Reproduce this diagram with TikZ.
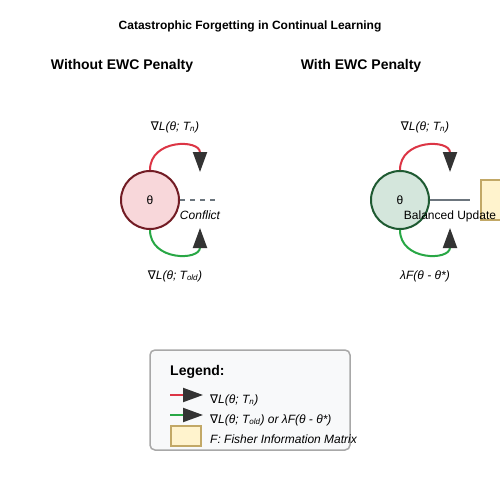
\documentclass[tikz,border=0pt]{standalone}
\usepackage{fontspec}
\setmainfont{Liberation Sans}
\newfontfamily\symfont{DejaVu Sans}
\usetikzlibrary{arrows.meta}

\definecolor{pushred}{HTML}{DC3545}
\definecolor{pullgreen}{HTML}{28A745}
\definecolor{tipgray}{HTML}{333333}
\definecolor{linegray}{HTML}{6C757D}
\definecolor{oldfill}{HTML}{F8D7DA}
\definecolor{olddraw}{HTML}{721C24}
\definecolor{ewcfill}{HTML}{D4E6DC}
\definecolor{ewcdraw}{HTML}{1E5A32}
\definecolor{fisherfill}{HTML}{FFF3CD}
\definecolor{fisherdraw}{HTML}{C2A866}
\definecolor{legfill}{HTML}{F8F9FA}
\definecolor{legdraw}{HTML}{A8A8A8}

\newcommand{\gradsym}{{\symfont\itshape ∇}}
\newcommand{\gradnew}{\gradsym L(θ; T\textsubscript{n})}
\newcommand{\gradold}{\gradsym L(θ; T\textsubscript{old})}

\begin{document}
\begin{tikzpicture}[x=1pt, y=-1pt,
    param/.style={draw, circle, line width=2pt, minimum size=58pt, inner sep=0,
                  font=\fontsize{12}{14}\selectfont},
    lbl/.style={anchor=base, inner sep=0, font=\fontsize{12}{14}\selectfont\itshape},
    head/.style={anchor=base, inner sep=0, font=\fontsize{14}{16}\selectfont\bfseries},
    grad/.style={line width=2pt, -{Triangle[length=20pt, width=14pt, color=tipgray]}},
    fisher/.style={draw=fisherdraw, fill=fisherfill, line width=2pt, inner sep=0}]
                \useasboundingbox (0,0) rectangle (500,500);
                \fill [white] (0,0) rectangle (500,500);

                \node (title) [anchor=base, font=\fontsize{12}{14}\selectfont\bfseries] at (250,30)
                    {Catastrophic Forgetting in Continual Learning};
                \node (headL) [head] at (122,70) {Without EWC Penalty};
                \node (headR) [head] at (361,70) {With EWC Penalty};

                % without penalty
                \node (thL) [param, draw=olddraw, fill=oldfill] at (150,200) {θ};
                \coordinate (upL) at (200,172);
                \coordinate (dnL) at (200,228);
                \coordinate (cfL) at (215,200);
                \draw [grad, pushred] (thL.north) .. controls (150,139) and (200,139) .. (upL);
                \draw [grad, pullgreen] (thL.south) .. controls (150,261) and (200,261) .. (dnL);
                \draw [linegray, line width=2pt, dash pattern=on 5pt off 5pt] (thL.east) -- (cfL);
                \node (gnL) [lbl] at (175,130) {\gradnew};
                \node (goL) [lbl] at (175,279) {\gradold};
                \node (conflict) [lbl] at (200,219) {Conflict};

                % with penalty
                \node (thR) [param, draw=ewcdraw, fill=ewcfill] at (400,200) {θ};
                \coordinate (upR) at (450,172);
                \coordinate (dnR) at (450,228);
                \coordinate (toF) at (470,200);
                \node (F) [fisher, minimum width=40pt, minimum height=40pt, anchor=west] at (480,200) {};
                \draw [grad, pushred] (thR.north) .. controls (400,139) and (450,139) .. (upR);
                \draw [grad, pullgreen] (thR.south) .. controls (400,261) and (450,261) .. (dnR);
                \draw [linegray, line width=2pt] (thR.east) -- (toF);
                \node (gnR) [lbl] at (425,130) {\gradnew};
                \node (pen) [lbl] at (425,279) {λF(θ - θ*)};
                \node (bal) [anchor=base, inner sep=0, font=\fontsize{12}{14}\selectfont] at (450,219)
                    {Balanced Update};

                % legend
                \draw [legdraw, fill=legfill, line width=1.5pt, rounded corners=5pt]
                    (150,350) rectangle (350,450);
                \node (leg) [head, anchor=base west] at (170,375) {Legend:};
                \coordinate (r0) at (170,395);
                \coordinate (r1) at (203,395);
                \coordinate (g0) at (170,415);
                \coordinate (g1) at (203,415);
                \draw [grad, pushred] (r0) -- (r1);
                \draw [grad, pullgreen] (g0) -- (g1);
                \node (Fkey) [fisher, minimum width=30pt, minimum height=20pt, anchor=north west] at (170,425) {};
                \node (t1) [lbl, anchor=base west] at (210,403) {\gradnew};
                \node (t2) [lbl, anchor=base west] at (210,423) {\gradold{} or λF(θ - θ*)};
                \node (t3) [lbl, anchor=base west] at (210,443) {F: Fisher Information Matrix};
            \end{tikzpicture}
\end{document}
